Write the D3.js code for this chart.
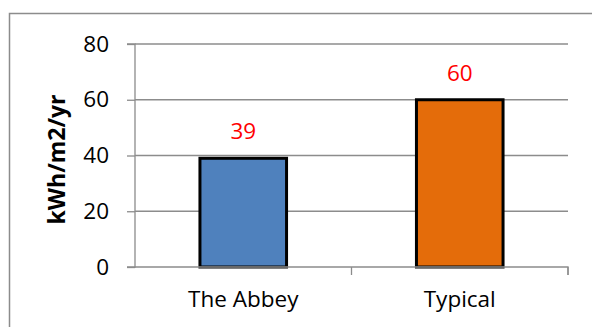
<!DOCTYPE html>
<html><head><meta charset="utf-8">
<script src="https://d3js.org/d3.v7.min.js"></script>
<style>body{margin:0;background:#fff}svg{display:block}</style>
</head><body>
<script>
const categories = ["The Abbey", "Typical"];
const values = [39, 60];
const barColors = ["#4F81BD", "#E46C0A"];
const yTicks = [0, 20, 40, 60, 80];
const yTitle = "kWh/m2/yr";

(function () {
const W = 592, H = 327;
const svg = d3.select("body").append("svg").attr("width", W).attr("height", H);
const font = "'Open Sans', sans-serif";

// outer border
svg.append("rect").attr("x", 9.5).attr("y", 13.5).attr("width", 600).attr("height", 400)
  .attr("fill", "none").attr("stroke", "#8c8c8c").attr("stroke-width", 1.5);

const pL = 135, pR = 568, pT = 44, pB = 267;
const x = d3.scaleBand().domain(categories).range([pL, pR]).paddingInner(0).paddingOuter(0);
const y = d3.scaleLinear().domain([0, 80]).range([pB, pT]);

// gridlines
svg.append("g").selectAll("line").data(yTicks.filter(d => d > 0)).join("line")
  .attr("x1", pL).attr("x2", pR).attr("y1", d => y(d)).attr("y2", d => y(d))
  .attr("stroke", "#8c8c8c").attr("stroke-width", 1.3);

// y axis
const yAxis = d3.axisLeft(y).tickValues(yTicks).tickSize(8).tickPadding(18);
const gy = svg.append("g").attr("transform", `translate(${pL},0)`).call(yAxis);
gy.select(".domain").attr("stroke", "#8c8c8c").attr("stroke-width", 1.3).attr("d", `M-8,${pB}H0V${pT}H-8`);
gy.selectAll(".tick line").attr("stroke", "#8c8c8c").attr("stroke-width", 1.3);
gy.selectAll(".tick text").attr("font-family", font).attr("font-size", 22.5).attr("fill", "#000");

// bars
const bw = x.bandwidth() * 0.4;
svg.append("g").selectAll("rect").data(values).join("rect")
  .attr("x", (d, i) => x(categories[i]) + x.bandwidth() / 2 - bw / 2)
  .attr("y", d => y(d))
  .attr("width", bw)
  .attr("height", d => y(0) - y(d))
  .attr("fill", (d, i) => barColors[i])
  .attr("stroke", "#000").attr("stroke-width", 3);

// x axis
const xAxis = d3.axisBottom(x).tickSize(0).tickPadding(24);
const gx = svg.append("g").attr("transform", `translate(0,${pB})`).call(xAxis);
gx.select(".domain").attr("stroke", "#8c8c8c").attr("stroke-width", 1.3).attr("d", `M${pL},0H${pR}V8`);
gx.selectAll(".tick text").attr("font-family", font).attr("font-size", 22.5).attr("fill", "#000");
// category boundary ticks
svg.append("g").selectAll("line").data(categories).join("line")
  .attr("x1", d => x(d) + x.bandwidth()).attr("x2", d => x(d) + x.bandwidth())
  .attr("y1", pB).attr("y2", pB + 8)
  .attr("stroke", "#8c8c8c").attr("stroke-width", 1.3);

// value labels
svg.append("g").selectAll("text").data(values).join("text")
  .attr("x", (d, i) => x(categories[i]) + x.bandwidth() / 2)
  .attr("y", d => y(d) - 19)
  .attr("text-anchor", "middle")
  .attr("font-family", font).attr("font-size", 22.5).attr("fill", "#FF0000")
  .text(d => d);

// y title
svg.append("text")
  .attr("transform", `translate(65,${(pT + pB) / 2 + 4}) rotate(-90)`)
  .attr("text-anchor", "middle")
  .attr("font-family", font).attr("font-size", 23).attr("font-weight", "bold").attr("fill", "#000")
  .text(yTitle);
})();
</script>
</body></html>
